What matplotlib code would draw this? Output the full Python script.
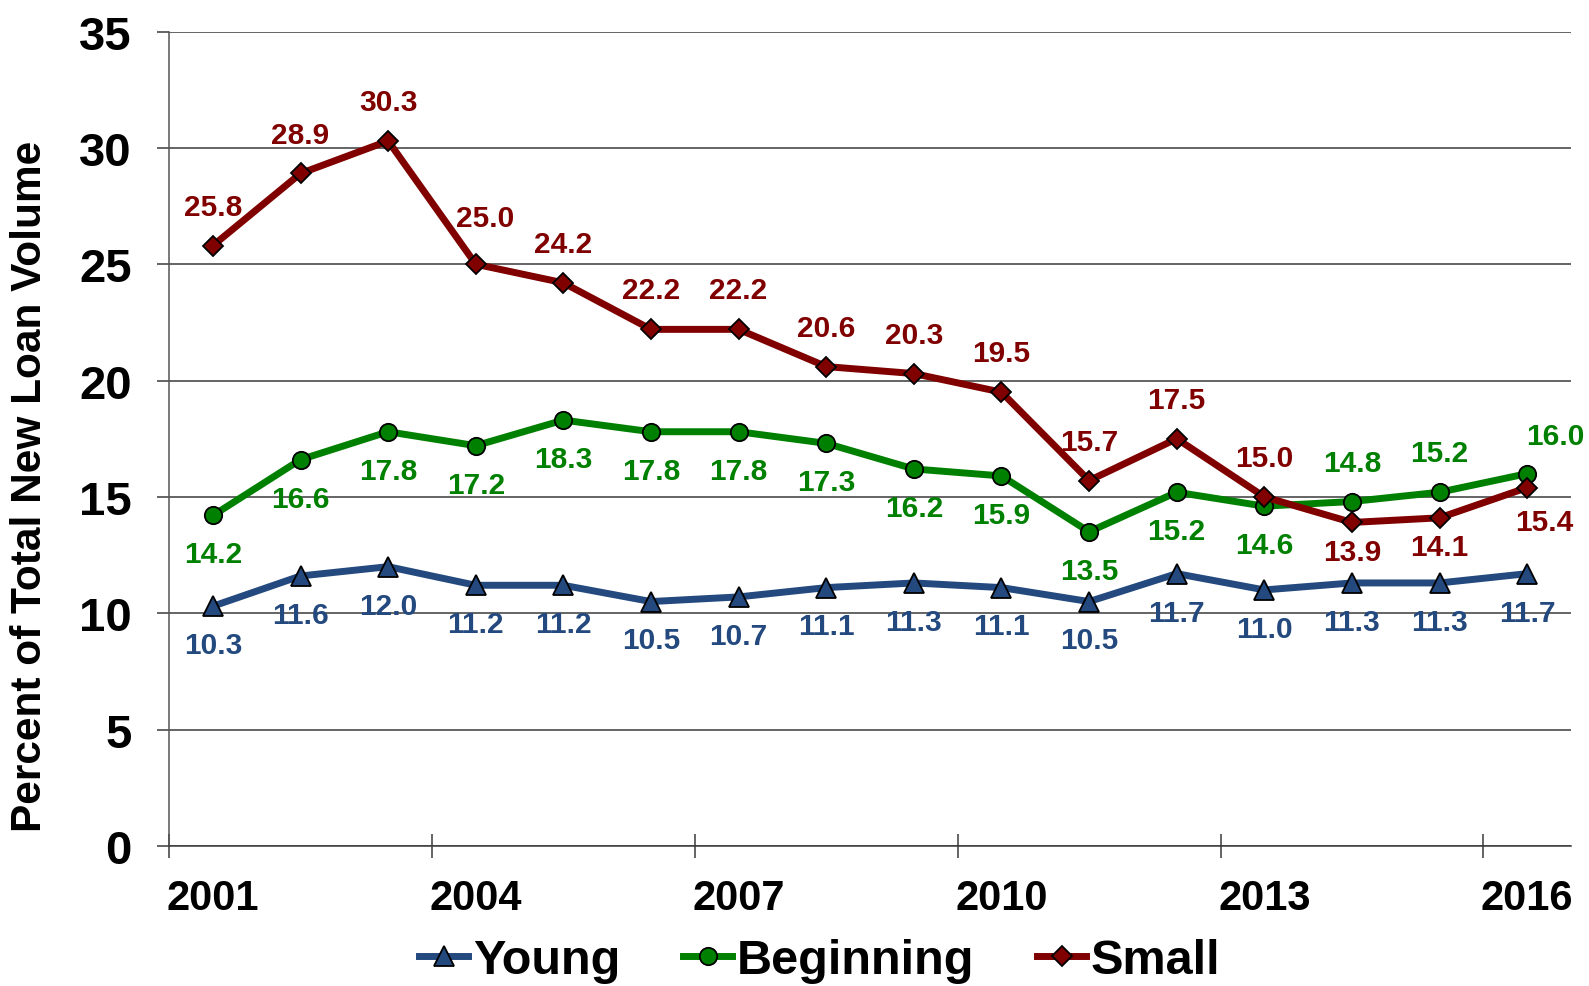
import matplotlib
matplotlib.use("Agg")
import matplotlib.pyplot as plt
from matplotlib.ticker import FixedLocator, NullFormatter, FixedFormatter

years = [2001, 2002, 2003, 2004, 2005, 2006, 2007, 2008,
         2009, 2010, 2011, 2012, 2013, 2014, 2015, 2016]
young = [10.3, 11.6, 12.0, 11.2, 11.2, 10.5, 10.7, 11.1,
         11.3, 11.1, 10.5, 11.7, 11.0, 11.3, 11.3, 11.7]
beginning = [14.2, 16.6, 17.8, 17.2, 18.3, 17.8, 17.8, 17.3,
             16.2, 15.9, 13.5, 15.2, 14.6, 14.8, 15.2, 16.0]
small = [25.8, 28.9, 30.3, 25.0, 24.2, 22.2, 22.2, 20.6,
         20.3, 19.5, 15.7, 17.5, 15.0, 13.9, 14.1, 15.4]
shown_years = [2001, 2004, 2007, 2010, 2013, 2016]

# label placement: 'b' below, 'a' above, 'ar' above-right, 'br' below-right
young_pos = ['b'] * 16
begin_pos = ['b'] * 13 + ['a', 'a', 'ar']
small_pos = ['a'] * 3 + ['a3'] + ['a'] * 9 + ['b2', 'b2', 'br']

offsets = {'a': (0, 28), 'b': (0, -28), 'ar': (20, 27), 'br': (12, -25),
           'b2': (0, -21), 'a3': (7, 33)}

NARROW = ['Liberation Sans Narrow', 'Liberation Sans', 'DejaVu Sans']
ARIAL = ['Liberation Sans', 'DejaVu Sans']

fig = plt.figure(figsize=(15.89, 9.87), dpi=100)
ax = fig.add_axes([0.1064, 0.142, 0.8823, 0.825])

x = list(range(len(years)))

series = [
    ("Young", young, '#23497E', '^', young_pos),
    ("Beginning", beginning, '#008000', 'o', begin_pos),
    ("Small", small, '#800000', 'D', small_pos),
]

for name, vals, col, mk, pos in series:
    ms = {'^': 14, 'o': 12.5, 'D': 10}[mk]
    ax.plot(x, vals, color=col, lw=5, marker=mk, ms=ms,
            markerfacecolor=col, markeredgecolor='black', markeredgewidth=1.3,
            label=name, zorder=3)
    for xi, v, p in zip(x, vals, pos):
        ax.annotate(f"{v:.1f}", (xi, v), xytext=offsets[p],
                    textcoords='offset points', ha='center', va='center',
                    fontsize=21.5, fontweight='bold', color=col,
                    family=ARIAL, zorder=4)

ax.set_xlim(-0.5, len(years) - 0.5)
ax.set_ylim(0, 35)
ax.set_yticks(range(0, 36, 5))
ax.grid(axis='y', color='#3a3a3a', lw=1.1)
ax.set_axisbelow(True)

for s in ['top', 'right']:
    ax.spines[s].set_visible(False)
ax.spines['left'].set_color('#555555')
ax.spines['bottom'].set_color('#3a3a3a')
ax.spines['left'].set_linewidth(1.1)
ax.spines['bottom'].set_linewidth(1.1)

ax.tick_params(axis='y', direction='out', length=9, width=1.1,
               color='#3a3a3a', pad=18)
for lab in ax.get_yticklabels():
    lab.set_fontsize(34)
    lab.set_fontweight('bold')
    lab.set_family(ARIAL)

# tick marks between categories, labels at every third year
ax.xaxis.set_major_locator(FixedLocator([-0.5, 2.5, 5.5, 8.5, 11.5, 14.5]))
ax.xaxis.set_major_formatter(NullFormatter())
ax.xaxis.set_minor_locator(FixedLocator([years.index(y) for y in shown_years]))
ax.xaxis.set_minor_formatter(FixedFormatter([str(y) for y in shown_years]))
ax.tick_params(axis='x', which='major', direction='inout', length=17,
               width=1.1, color='#3a3a3a')
ax.tick_params(axis='x', which='minor', length=0, pad=23)
for lab in ax.xaxis.get_minorticklabels():
    lab.set_fontsize(30)
    lab.set_fontweight('bold')
    lab.set_family(NARROW)

fig.text(0.019, 0.507, "Percent of Total New Loan Volume", rotation=90,
         ha='center', va='center', fontsize=30.5, fontweight='bold',
         family=ARIAL)

leg = fig.legend(loc='center', bbox_to_anchor=(0.516, 0.026), ncol=3,
                 frameon=False, handlelength=1.0, handletextpad=0.1,
                 columnspacing=1.3,
                 prop={'family': NARROW, 'weight': 'bold', 'size': 35})

fig.savefig("out.png", dpi=100)
